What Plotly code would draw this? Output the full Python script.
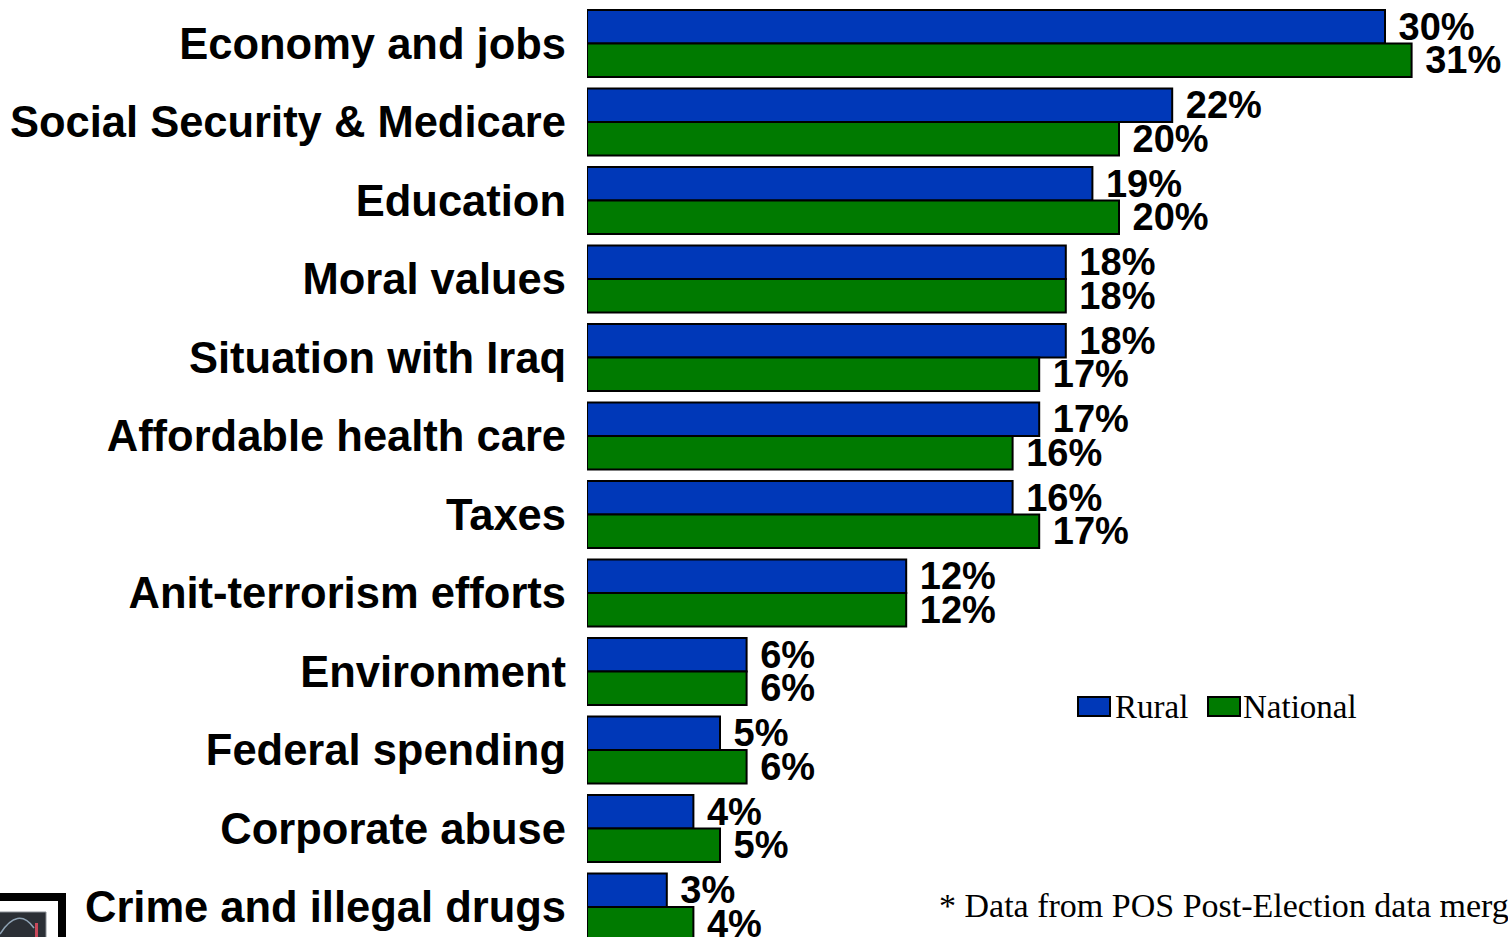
import plotly.graph_objects as go

# Issue rankings: share of respondents naming each issue
categories = [
    "Economy and jobs",
    "Social Security & Medicare",
    "Education",
    "Moral values",
    "Situation with Iraq",
    "Affordable health care",
    "Taxes",
    "Anit-terrorism efforts",
    "Environment",
    "Federal spending",
    "Corporate abuse",
    "Crime and illegal drugs",
]
rural = [30, 22, 19, 18, 18, 17, 16, 12, 6, 5, 4, 3]
national = [31, 20, 20, 18, 17, 16, 17, 12, 6, 6, 5, 4]
series_names = ["Rural", "National"]
footnote = "* Data from POS Post-Election data merged"

W, H = 1508, 937
ML = 587
BLUE = "#0038B8"
GREEN = "#007A00"
SANS = "Liberation Sans, Arial, sans-serif"
SERIF = "Liberation Serif, Times New Roman, serif"
PX_PER_PCT = 26.6
ROW = 78.5


def px(x):
    return (x - ML) / (W - ML)


def py(y):
    return 1 - y / H


fig = go.Figure()
for name, vals, color in [(series_names[0], rural, BLUE), (series_names[1], national, GREEN)]:
    fig.add_trace(go.Bar(
        name=name,
        y=categories,
        x=vals,
        orientation="h",
        marker=dict(color=color, line=dict(color="black", width=2)),
        text=[f"\u00a0{v}%" for v in vals],
        textposition="outside",
        textfont=dict(family=SANS, size=38, color="black", weight="bold"),
        constraintext="none",
        cliponaxis=False,
        showlegend=False,
    ))

shapes = []
annotations = []

# legend swatches and labels
for (x0, x1, tx), name, color in [((1078, 1110, 1113), series_names[0], BLUE),
                                   ((1208, 1240, 1241), series_names[1], GREEN)]:
    shapes.append(dict(type="rect", xref="paper", yref="paper",
                       x0=px(x0), x1=px(x1), y0=py(716), y1=py(697),
                       fillcolor=color, line=dict(color="black", width=2)))
    annotations.append(dict(text=name, xref="paper", yref="paper",
                            x=px(tx), y=py(707), xanchor="left", yanchor="middle",
                            showarrow=False,
                            font=dict(family=SERIF, size=33, color="black")))

# source note
annotations.append(dict(text=footnote, xref="paper", yref="paper",
                        x=px(937), y=py(905), xanchor="left", yanchor="middle",
                        showarrow=False,
                        font=dict(family=SERIF, size=34, color="black")))

# framed logo in the lower-left corner
shapes += [
    dict(type="rect", xref="paper", yref="paper", layer="above",
         x0=px(-5), x1=px(66), y0=py(950), y1=py(893),
         fillcolor="black", line=dict(width=0)),
    dict(type="rect", xref="paper", yref="paper", layer="above",
         x0=px(-5), x1=px(58), y0=py(950), y1=py(901),
         fillcolor="white", line=dict(width=0)),
    dict(type="rect", xref="paper", yref="paper", layer="above",
         x0=px(-5), x1=px(46), y0=py(950), y1=py(912),
         fillcolor="#2b2f35", line=dict(color="#8a8f96", width=1)),
    dict(type="path", xref="paper", yref="paper", layer="above",
         path=f"M {px(0)},{py(934)} Q {px(18)},{py(906)} {px(34)},{py(928)}",
         line=dict(color="#8fa3b5", width=1.5)),
    dict(type="rect", xref="paper", yref="paper", layer="above",
         x0=px(35), x1=px(38), y0=py(940), y1=py(923),
         fillcolor="#c8485a", line=dict(width=0)),
]

fig.update_layout(
    width=W, height=H,
    margin=dict(l=ML, r=0, t=0, b=0, autoexpand=False),
    paper_bgcolor="white", plot_bgcolor="white",
    barmode="group", bargap=0.146, bargroupgap=0,
    showlegend=False,
    shapes=shapes, annotations=annotations,
    xaxis=dict(range=[0, (W - ML) / PX_PER_PCT], visible=False, fixedrange=True),
    yaxis=dict(
        type="category",
        categoryorder="array", categoryarray=categories,
        range=[-43.5 / ROW + H / ROW, -43.5 / ROW],
        showgrid=False, zeroline=False, showline=False, ticks="",
        ticklabelstandoff=20,
        tickfont=dict(family=SANS, size=43.5, color="black", weight="bold"),
        automargin=False,
    ),
)

fig.write_html("out.html")
